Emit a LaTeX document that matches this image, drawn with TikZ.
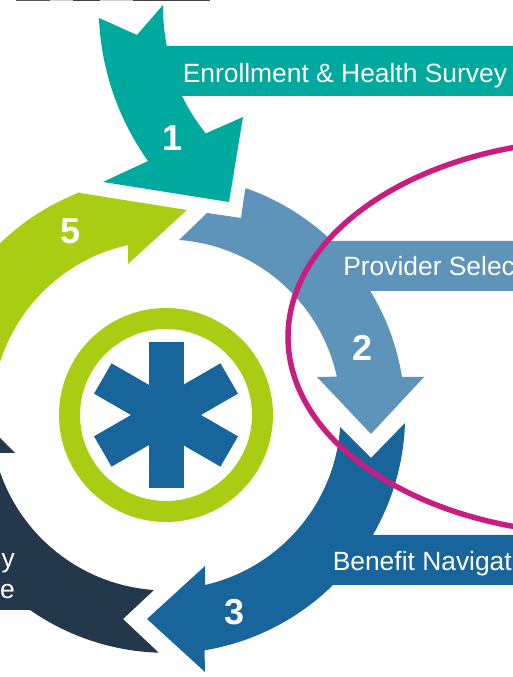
\documentclass[tikz,border=0pt]{standalone}
\usepackage{fontspec}
\setmainfont{Liberation Sans}
\usepackage{tkz-euclide}
\definecolor{EnrollClr}{HTML}{00A99D}
\definecolor{ProviderClr}{HTML}{5E93BA}
\definecolor{BenefitClr}{HTML}{18659B}
\definecolor{DarkClr}{HTML}{24384C}
\definecolor{LimeClr}{HTML}{A9CD13}
\definecolor{LoopClr}{HTML}{C81E82}
\tikzset{
  steptext/.style={text=white,anchor=base west,inner sep=0pt,font=\fontsize{19.8}{23}\selectfont},
  stepnum/.style={text=white,anchor=base,inner sep=0pt,font=\fontsize{27}{30}\selectfont\bfseries}
}

\begin{document}
\begin{tikzpicture}[x=.75pt,y=.75pt]
\useasboundingbox (0,0) rectangle (513,677);

\tkzDefPoints{166/262/O,364/670/Q,599/340/L}
\tkzDefPoints{99/659/A,137/642/B,163/672/C,165/631/D,520/631/E,520/581/F,182/581/G,243/560/H,229/475/I,103/495/J,148/516/K}
\tkzDefPoints{179/437/Pa,317/300/Pb,371/243/Pc,424/300/Pd,402/300/Pe,370/386/Pf,520/386/Pg,520/436/Ph,332/436/Pi,245/487/Pj,241/459/Pk,207/464/Pl}
\tkzDefPoints{340/250/Ba,371/219/Bb,405/254/Bc,373/142/Bd,520/142/Be,520/92/Bf,333/92/Bg,205/5/Bh,147/58/Bi,205/111/Bj,205/92/Bk}
\tkzDefPoints{154/87/Da,15/224/Db,-41/280/Dc,-100/224/Dd,-100/67/De,30/67/Df,158/25/Dg,123/58/Dh}
\tkzDefPoints{80/484/La,187/467/Lb,128/413/Lc,128/432/Ld,-100/315/Le,-100/374/Lf,-45/374/Lg}

\fill[LimeClr] (La) -- (Lb) -- (Lc) -- (Ld) arc[start angle=102.6,end angle=175,radius=174.2] -- (Le) -- (Lf) -- (Lg) arc[start angle=152,end angle=111.2,radius=239] -- cycle;

\fill[EnrollClr] (A) -- (B) -- (C) arc[start angle=179.4,end angle=191.1,radius=202] -- (D) -- (E) -- (F) -- (G) arc[start angle=206.1,end angle=218.7,radius=202] -- (H) -- (I) -- (J) -- (K) arc[start angle=215.5,end angle=182.4,radius=265] -- cycle;

\fill[ProviderClr] (Pa) arc[start angle=85.75,end angle=12.5,radius=175] -- (Pb) -- (Pc) -- (Pd) -- (Pe) arc[start angle=9.15,end angle=31.3,radius=239] -- (Pf) -- (Pg) -- (Ph) -- (Pi) arc[start angle=46.3,end angle=70.65,radius=239] -- (Pj) -- (Pk) -- (Pl) -- cycle;

\fill[BenefitClr] (Ba) -- (Bb) -- (Bc) arc[start angle=-1.9,end angle=-30.1,radius=239] -- (Bd) -- (Be) -- (Bf) -- (Bg) arc[start angle=-45.5,end angle=-80.6,radius=239] -- (Bh) -- (Bi) -- (Bj) -- (Bk) arc[start angle=-77.1,end angle=-3.95,radius=174.5] -- cycle;

\fill[DarkClr] (Da) arc[start angle=266.1,end angle=192.5,radius=175.4] -- (Db) -- (Dc) -- (Dd) -- (De) -- (Df) arc[start angle=235.1,end angle=268.1,radius=238] -- (Dg) -- (Dh) -- cycle;

\draw[LimeClr,line width=15.75pt] (O) circle (96.5);
\foreach \ang in {0,60,120}
  \fill[BenefitClr,rotate around={\ang:(O)}] (148.5,189) rectangle (183.5,335);

\draw[LoopClr,line width=4.1pt] (L) ellipse [x radius=311,y radius=197];

% cut off photo at the top edge
\fill[gray!70!black] (16,676) rectangle (50,677);
\fill[gray!35] (50,676) rectangle (73,677);
\fill[black!75] (73,676) rectangle (100,677);
\fill[gray!35] (100,676) rectangle (133,677);
\fill[black!75] (133,676) rectangle (210,677);

\node[steptext] (enroll) at (182.5,594.5) {Enrollment \& Health Survey};
\node[steptext] (select) at (343,401) {Provider Selec};
\node[steptext] (navig) at (332.5,106.5) {Benefit Navigat};
\node[steptext,anchor=base east] (lineone) at (15,109.5) {y};
\node[steptext,anchor=base east] (linetwo) at (15,78.5) {e};

\node[stepnum] (one) at (173,526) {1};
\node[stepnum] (two) at (363,316) {2};
\node[stepnum] (three) at (235,52) {3};
\node[stepnum] (five) at (71,433) {5};

\end{tikzpicture}
\end{document}
